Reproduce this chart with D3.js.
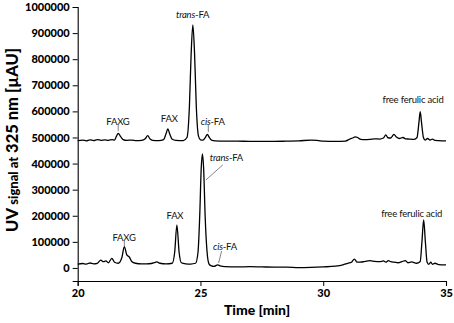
<!DOCTYPE html>
<html><head><meta charset="utf-8">
<script src="https://cdn.jsdelivr.net/npm/d3@7/dist/d3.min.js"></script>
<style>
body{margin:0;background:#fff;}
svg{display:block;}
</style></head>
<body>
<svg id="chart" width="454" height="323"></svg>
<script>
// Time (min) sample points and UV signal (µAU) for the two chromatograms
const topTime = [20.0,20.2,20.35,20.5,20.65,20.8,20.95,21.1,21.25,21.4,21.5,21.58,21.65,21.75,21.85,22.0,22.2,22.4,22.6,22.75,22.85,22.95,23.05,23.3,23.5,23.6,23.67,23.75,23.85,24.0,24.3,24.45,24.55,24.62,24.69,24.76,24.83,24.92,25.0,25.1,25.2,25.28,25.36,25.45,25.6,26.0,26.5,27.0,27.5,28.0,28.5,29.0,29.5,29.8,30.0,30.5,30.9,31.1,31.2,31.3,31.4,31.5,31.7,31.9,32.1,32.3,32.45,32.55,32.63,32.75,32.88,32.98,33.1,33.25,33.35,33.5,33.7,33.82,33.9,33.95,34.0,34.08,34.15,34.25,34.35,34.45,34.55,34.7,35.0];
const topSignal = [488000,490000,487000,491000,488000,492000,489000,491000,489000,492000,490000,505000,516000,503000,492000,489000,490000,488000,489000,495000,507000,494000,489000,488000,492000,515000,533000,513000,493000,489000,488000,500000,620000,820000,931000,820000,620000,505000,491000,490000,500000,512000,500000,490000,487000,486000,486000,485000,485000,485000,486000,487000,490000,488000,486000,485000,486000,495000,498000,502000,500000,494000,492000,493000,495000,494000,498000,510000,499000,498000,512000,502000,496000,500000,495000,494000,493000,500000,560000,599000,560000,500000,490000,496000,490000,494000,489000,488000,487000];

const botTime = [20.0,20.2,20.35,20.5,20.65,20.8,20.94,21.05,21.15,21.25,21.39,21.5,21.65,21.8,21.9,22.0,22.1,22.2,22.35,22.6,22.8,23.0,23.12,23.22,23.35,23.6,23.85,23.95,24.04,24.13,24.22,24.4,24.6,24.8,24.9,24.97,25.03,25.08,25.13,25.19,25.27,25.35,25.45,25.55,25.7,25.8,26.0,26.5,27.0,27.5,28.0,28.5,29.0,29.5,30.0,30.5,30.8,31.0,31.15,31.27,31.38,31.5,31.7,31.9,32.1,32.3,32.45,32.55,32.65,32.75,32.9,33.05,33.2,33.34,33.45,33.6,33.8,33.95,34.02,34.09,34.16,34.23,34.3,34.38,34.45,34.55,34.7,35.0];
const botSignal = [15000,17000,15000,19000,16000,18000,30000,24000,27000,20000,37000,22000,18000,40000,82000,50000,42000,25000,18000,16000,16000,17000,20000,23000,18000,16000,18000,60000,165000,60000,20000,16000,15000,18000,60000,200000,380000,437000,380000,200000,60000,15000,8000,6000,12000,8000,5000,4000,5000,4000,3000,3000,1000,2000,4000,7000,12000,18000,22000,34000,22000,22000,25000,28000,25000,24000,27000,22000,28000,24000,22000,20000,24000,28000,20000,23000,18000,25000,100000,184000,100000,22000,14000,22000,14000,18000,13000,12000];

const xTicks = [20,25,30,35];
const yTicks = [0,100000,200000,300000,400000,500000,600000,700000,800000,900000,1000000];

// Peak annotations: label text parts [text, italic], label anchor (time, signal), optional leader line
const labelText = [
  [["FAXG",false]], [["FAX",false]], [["trans",true],["-FA",false]], [["cis",true],["-FA",false]], [["free ferulic acid",false]],
  [["FAXG",false]], [["FAX",false]], [["trans",true],["-FA",false]], [["cis",true],["-FA",false]], [["free ferulic acid",false]]
];
const labelTime   = [21.64, 23.73, 24.68, 25.5, 33.66, 21.89, 23.96, 26.06, 26.0, 33.6];
const labelSignal = [561000, 571000, 969000, 560000, 646000, 116000, 199000, 422000, 81000, 209000];
const leaderFrom  = [[21.65,548000], null, null, [25.32,548000], null, [21.9,104000], null, [25.91,395000], [25.86,65000], null];
const leaderTo    = [[21.65,524000], null, null, [25.32,521000], null, [21.9,83000], null, [25.22,337000], [25.74,19000], null];

const svg = d3.select("#chart");
const x = d3.scaleLinear().domain([20,35]).range([77.7,446]);
const y = d3.scaleLinear().domain([-50000,1000000]).range([281,7]);

// axes
const xAxis = d3.axisBottom(x).tickValues(xTicks).tickFormat(d3.format("d")).tickSize(5).tickPadding(3);
const xMinor = d3.axisBottom(x).tickValues(d3.range(0,19).map(i=>20+i*5/6)).tickFormat("").tickSize(3);
const yAxis = d3.axisLeft(y).tickValues(yTicks).tickFormat(d3.format("d")).tickSize(5).tickPadding(3);
const yMinor = d3.axisLeft(y).tickValues(d3.range(-50000,1000001,50000)).tickFormat("").tickSize(3);

const gx = svg.append("g").attr("transform","translate(0,281)");
gx.call(xMinor); gx.call(xAxis);
const gy = svg.append("g").attr("transform","translate(77.7,0)");
gy.call(yMinor); gy.call(yAxis);
svg.selectAll(".domain").attr("stroke","#000").attr("stroke-width",1.1);
svg.selectAll(".tick line").attr("stroke","#000").attr("stroke-width",1);
svg.selectAll(".tick text").attr("fill","#000")
  .style("font-family","Lato, 'DejaVu Sans', sans-serif").style("font-weight","900").style("font-size","11px");

// traces
const line = d3.line().x(d=>x(d[0])).y(d=>y(d[1])).curve(d3.curveMonotoneX);
[[topTime,topSignal],[botTime,botSignal]].forEach(([t,s])=>{
  svg.append("path").datum(t.map((v,i)=>[v,s[i]]))
    .attr("d",line).attr("fill","none").attr("stroke","#000").attr("stroke-width",1.3).attr("stroke-linejoin","round");
});

// annotations
labelText.forEach((parts,i)=>{
  const tx = svg.append("text").attr("x",x(labelTime[i])).attr("y",y(labelSignal[i])).attr("dy","0.35em")
    .attr("text-anchor","middle").style("font-family","Lato, sans-serif").style("font-size","9.5px")
    .style("letter-spacing","-0.2px").attr("fill","#111");
  parts.forEach(p=>tx.append("tspan").text(p[0]).style("font-style",p[1]?"italic":"normal"));
  if(leaderFrom[i]){
    svg.append("line").attr("x1",x(leaderFrom[i][0])).attr("y1",y(leaderFrom[i][1]))
      .attr("x2",x(leaderTo[i][0])).attr("y2",y(leaderTo[i][1])).attr("stroke","#666").attr("stroke-width",0.8);
  }
});

// axis titles
svg.append("text").attr("x",257).attr("y",315).attr("text-anchor","middle")
  .style("font-family","Lato, sans-serif").style("font-weight","900").style("font-size","14px").text("Time [min]");
const yt = svg.append("text").attr("transform","translate(18,140) rotate(-90)").attr("text-anchor","middle")
  .style("font-family","Lato, sans-serif").style("font-weight","900").style("font-size","16.5px");
yt.append("tspan").text("UV ");
yt.append("tspan").text("signal at").style("font-size","13px");
yt.append("tspan").text(" 325 nm [µAU]");
</script>
</body></html>
